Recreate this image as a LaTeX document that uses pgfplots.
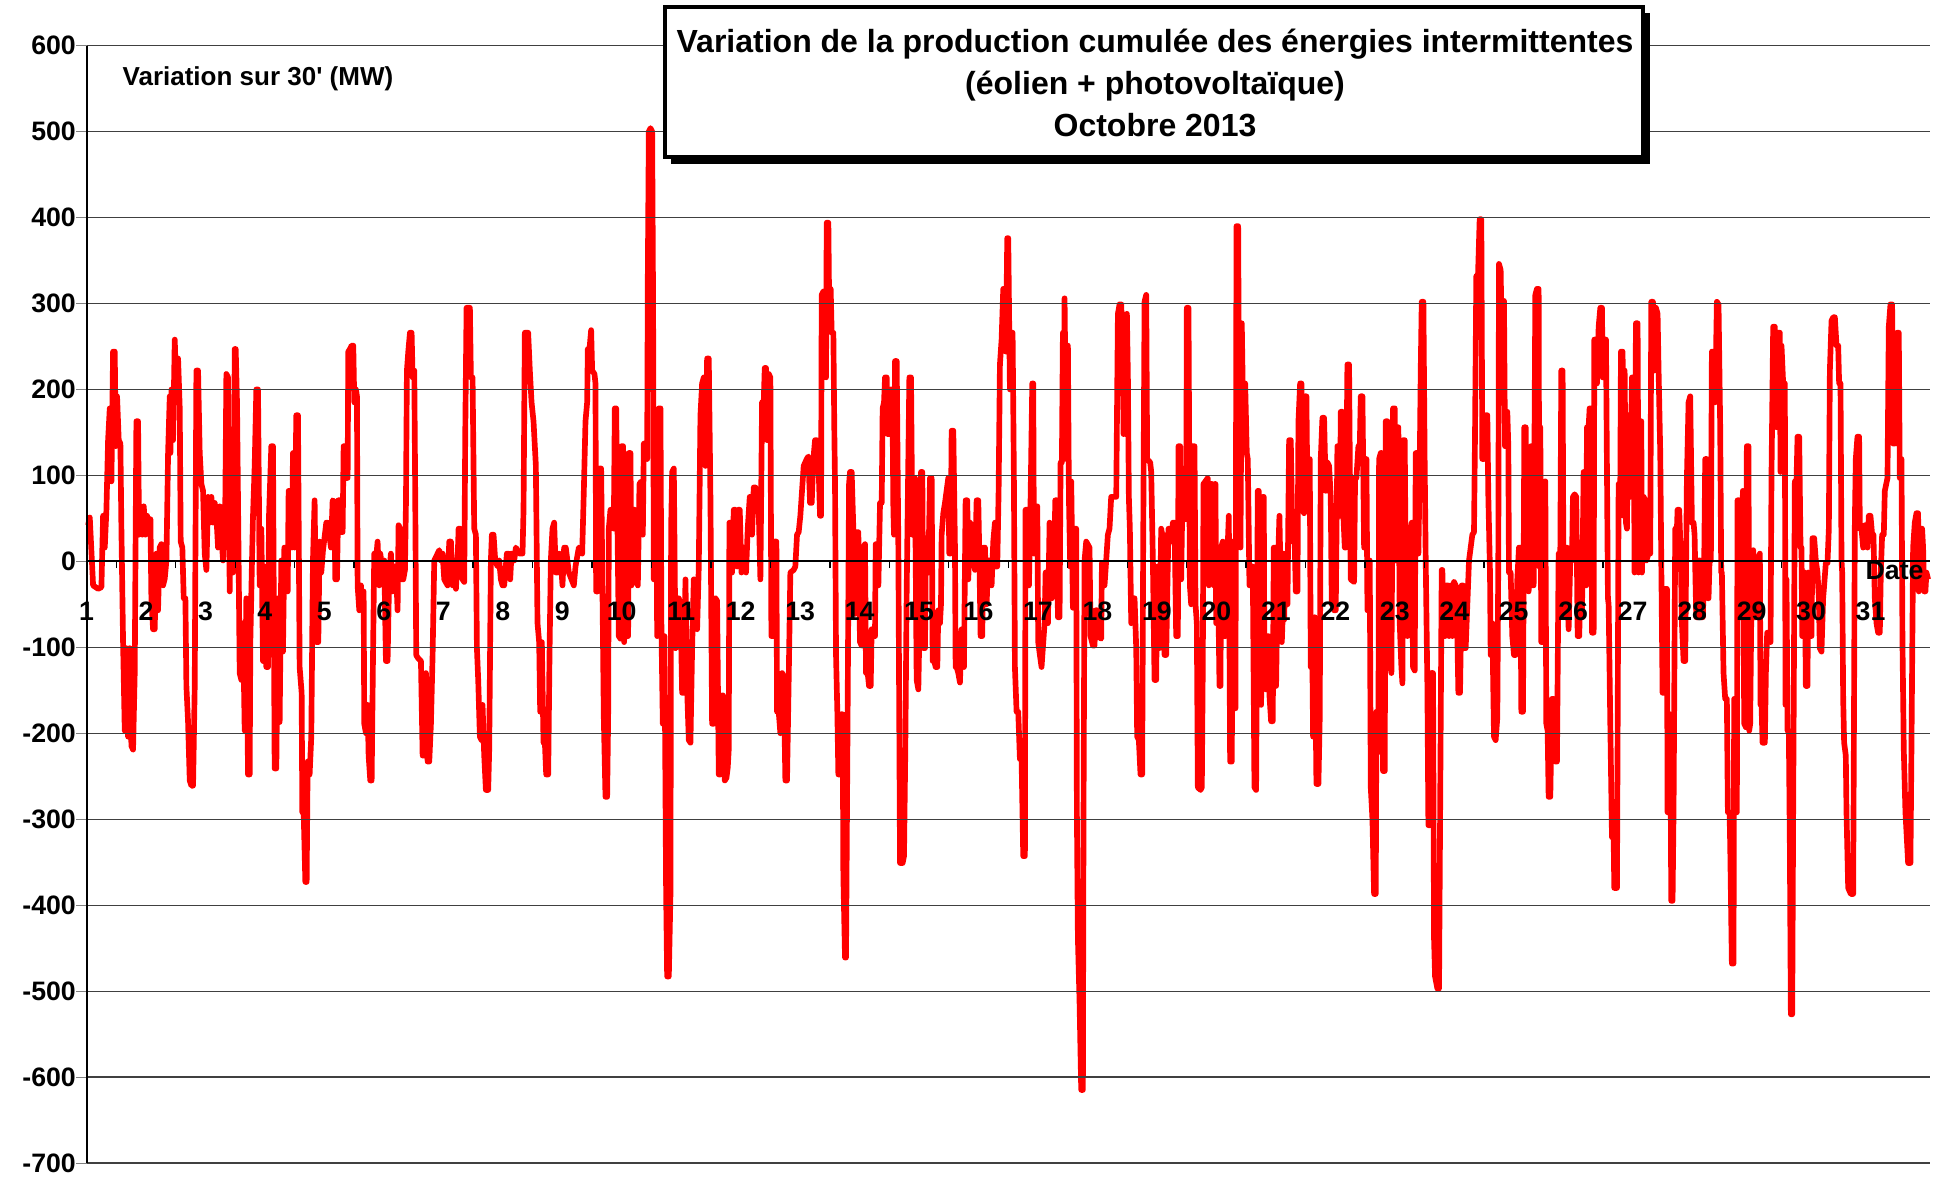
\documentclass[border=0pt]{standalone}
\usepackage{fontspec}
\setmainfont{Liberation Sans}
\usepackage{pgfplots}
\pgfplotsset{compat=1.18}
\begin{document}
\begin{tikzpicture}
\useasboundingbox (0,0) rectangle (581.1bp,353.7bp);
\begin{axis}[
  axis on top,
  at={(25.95bp,4.8bp)}, anchor=south west,
  scale only axis, width=553.05bp, height=335.2bp,
  xmin=1, xmax=32, ymin=-700, ymax=600,
  axis x line=middle, axis y line=left,
  axis line style={-, black, line width=0.6bp},
  hide obscured x ticks=false, hide obscured y ticks=false,
  xtick={1,...,31},
  xticklabels={1,2,3,4,5,6,7,8,9,10,11,12,13,14,15,16,17,18,19,20,21,22,23,24,25,26,27,28,29,30,31},
  minor x tick num=1,
  major x tick style={draw=none},
  minor x tick style={black, line width=0.4bp},
  minor tick length=2bp,
  ytick={-700,-600,...,600},
  yticklabels={-700,-600,-500,-400,-300,-200,-100,0,100,200,300,400,500,600},
  major tick length=3bp,
  tick align=outside,
  ymajorgrids,
  major grid style={black!75, line width=0.35bp},
  xticklabel style={font=\bfseries\fontsize{8bp}{9.6bp}\selectfont, anchor=center, yshift=-12bp},
  yticklabel style={font=\bfseries\fontsize{8bp}{9.6bp}\selectfont, anchor=east, inner sep=0pt},
  clip=false,
]
\addplot[red, line width=1.7bp, line join=round, no markers] coordinates {
(1.027,42)(1.055,51)(1.111,-28)(1.195,-32)(1.251,-30)(1.279,53)(1.307,16)(1.335,60)(1.363,141)(1.391,178)(1.419,93)(1.447,244)(1.475,244)(1.492,134)(1.514,192)(1.542,141)(1.570,137)(1.587,38)(1.615,-94)(1.643,-197)(1.671,-101)(1.699,-204)(1.727,-101)(1.755,-215)(1.783,-219)(1.811,-130)(1.839,163)(1.867,163)(1.884,31)(1.912,60)(1.940,31)(1.963,64)(1.991,31)(2.019,53)(2.047,38)(2.075,49)(2.091,-43)(2.119,-79)(2.147,-79)(2.175,9)(2.203,-57)(2.231,16)(2.259,20)(2.288,-28)(2.316,-20)(2.344,1)(2.372,126)(2.400,192)(2.411,126)(2.428,200)(2.456,141)(2.484,258)(2.512,192)(2.540,236)(2.568,178)(2.584,23)(2.612,16)(2.635,-43)(2.663,-43)(2.680,-145)(2.708,-187)(2.736,-255)(2.764,-261)(2.792,-261)(2.820,-145)(2.848,222)(2.876,222)(2.904,126)(2.932,90)(2.960,82)(2.988,9)(3.016,-10)(3.044,75)(3.072,45)(3.100,75)(3.128,45)(3.156,68)(3.184,53)(3.212,16)(3.240,64)(3.268,31)(3.296,1)(3.335,75)(3.352,218)(3.380,214)(3.408,-35)(3.436,111)(3.464,-13)(3.481,75)(3.492,247)(3.509,247)(3.531,185)(3.559,-6)(3.576,-130)(3.604,-138)(3.632,-72)(3.660,-197)(3.688,-43)(3.716,-248)(3.744,-248)(3.755,-94)(3.783,1)(3.800,53)(3.828,111)(3.856,200)(3.884,200)(3.912,-28)(3.940,38)(3.968,-116)(3.996,-6)(4.024,-123)(4.052,-123)(4.069,53)(4.108,134)(4.136,134)(4.164,-241)(4.192,-241)(4.220,-43)(4.248,-187)(4.276,1)(4.304,-105)(4.327,16)(4.360,9)(4.383,-35)(4.399,82)(4.427,82)(4.455,16)(4.472,126)(4.500,16)(4.528,170)(4.556,170)(4.584,-123)(4.618,-153)(4.629,-292)(4.652,-292)(4.680,-373)(4.702,-373)(4.719,-233)(4.752,-248)(4.780,-204)(4.808,1)(4.836,71)(4.864,-94)(4.898,-94)(4.920,23)(4.948,-13)(4.976,12)(5.032,45)
(5.055,45)(5.111,16)(5.139,71)(5.167,69)(5.184,-21)(5.212,-21)(5.234,71)(5.262,71)(5.279,34)(5.307,34)(5.324,134)(5.346,134)(5.363,97)(5.391,97)(5.402,244)(5.430,247)(5.458,251)(5.486,251)(5.503,185)(5.531,200)(5.548,192)(5.559,-28)(5.587,-57)(5.615,-28)(5.643,-57)(5.660,-35)(5.671,-189)(5.699,-200)(5.727,-167)(5.744,-226)(5.772,-255)(5.795,-255)(5.817,-116)(5.839,9)(5.867,1)(5.895,23)(5.923,-28)(5.940,9)(5.979,-10)(6.007,1)(6.035,-116)(6.063,-116)(6.091,-13)(6.119,9)(6.147,-35)(6.175,-6)(6.203,-6)(6.231,-57)(6.248,42)(6.276,38)(6.299,-21)(6.327,-21)(6.355,-10)(6.372,68)(6.388,222)(6.411,244)(6.439,266)(6.467,266)(6.484,214)(6.512,222)(6.528,75)(6.545,-109)(6.568,-112)(6.624,-116)(6.652,-226)(6.680,-226)(6.708,-130)(6.736,-233)(6.764,-233)(6.792,-189)(6.820,-109)(6.848,1)(6.904,9)(6.932,13)(6.960,1)(6.988,9)(7.016,-21)(7.072,-28)(7.100,23)(7.128,23)(7.156,-28)(7.184,1)(7.212,-32)(7.240,1)(7.257,38)(7.285,38)(7.324,-21)(7.352,-24)(7.369,148)(7.391,295)(7.419,295)(7.447,295)(7.464,214)(7.492,214)(7.520,38)(7.548,31)(7.565,-101)(7.587,-138)(7.615,-204)(7.643,-208)(7.660,-167)(7.688,-226)(7.716,-266)(7.755,-266)(7.772,-219)(7.800,1)(7.817,31)(7.845,31)(7.873,1)(7.912,-6)(7.940,1)(7.968,-21)(7.996,-28)(8.024,-28)(8.069,9)(8.097,9)(8.125,-21)(8.147,9)(8.192,1)(8.220,16)(8.276,9)(8.332,9)(8.349,60)(8.371,266)(8.399,266)(8.427,266)(8.455,222)(8.484,185)(8.517,163)(8.556,112)(8.584,-72)(8.612,-94)(8.629,-175)(8.657,-94)(8.685,-211)(8.708,-211)(8.730,-248)(8.764,-248)(8.786,-109)(8.808,1)(8.836,38)(8.864,45)(8.892,-13)(8.920,-13)(8.948,9)(8.976,1)(9.004,-28)(9.032,16)(9.060,16)
(9.111,-13)(9.195,-28)(9.223,-6)(9.279,16)(9.335,9)(9.363,82)(9.391,163)(9.419,185)(9.430,247)(9.458,247)(9.486,269)(9.503,222)(9.542,218)(9.559,207)(9.570,-35)(9.598,-35)(9.626,108)(9.654,108)(9.671,1)(9.699,-182)(9.727,-274)(9.755,-274)(9.772,-182)(9.783,38)(9.811,60)(9.867,38)(9.884,178)(9.907,178)(9.923,75)(9.951,-87)(9.979,-90)(9.996,134)(10.024,134)(10.041,-94)(10.063,75)(10.080,-87)(10.108,-87)(10.119,126)(10.147,126)(10.164,-28)(10.192,60)(10.220,60)(10.243,-21)(10.271,-28)(10.299,90)(10.327,93)(10.355,31)(10.372,137)(10.400,137)(10.428,119)(10.439,332)(10.456,500)(10.484,504)(10.512,500)(10.528,295)(10.540,-21)(10.568,-13)(10.579,163)(10.596,-87)(10.624,178)(10.652,178)(10.668,-79)(10.691,-189)(10.719,-87)(10.747,-387)(10.764,-483)(10.792,-483)(10.820,-387)(10.831,38)(10.848,104)(10.876,108)(10.904,-101)(10.932,-98)(10.960,-43)(10.988,-50)(11.016,-153)(11.044,-153)(11.072,-21)(11.100,-149)(11.128,-208)(11.156,-211)(11.184,-101)(11.212,-21)(11.240,-24)(11.268,-79)(11.296,-6)(11.324,170)(11.352,207)(11.380,214)(11.408,111)(11.436,236)(11.464,236)(11.492,75)(11.520,-189)(11.548,-189)(11.576,-43)(11.604,-46)(11.632,-248)(11.660,-248)(11.688,-156)(11.705,-156)(11.733,-255)(11.761,-252)(11.783,-240)(11.800,-219)(11.811,45)(11.839,45)(11.856,-13)(11.884,60)(11.912,60)(11.940,-6)(11.957,60)(11.985,60)(12.013,-13)(12.041,16)(12.069,16)(12.091,-13)(12.119,38)(12.153,75)(12.181,75)(12.192,31)(12.220,86)(12.248,86)(12.276,60)(12.304,60)(12.332,-21)(12.360,185)(12.388,185)(12.405,225)(12.427,225)(12.444,141)(12.472,218)(12.500,214)(12.517,-87)(12.545,-87)(12.573,23)(12.601,23)(12.612,-175)(12.640,-175)(12.668,-200)(12.696,-130)(12.724,-134)(12.752,-255)(12.780,-255)(12.808,-138)(12.836,-13)(12.892,-10)(12.920,-6)(12.948,31)(12.976,34)(13.004,53)(13.032,82)(13.060,111)
(13.111,119)(13.139,122)(13.167,68)(13.195,68)(13.223,119)(13.251,141)(13.279,141)(13.307,119)(13.335,53)(13.352,53)(13.363,310)(13.391,314)(13.419,222)(13.436,214)(13.447,394)(13.475,394)(13.492,273)(13.514,317)(13.531,266)(13.559,266)(13.576,148)(13.587,90)(13.604,-109)(13.626,-175)(13.643,-248)(13.671,-248)(13.688,-178)(13.716,-178)(13.727,-365)(13.755,-461)(13.772,-461)(13.795,-219)(13.823,90)(13.839,104)(13.867,104)(13.895,38)(13.907,-57)(13.923,-61)(13.951,34)(13.979,34)(14.007,-94)(14.035,-98)(14.063,16)(14.091,20)(14.108,-130)(14.136,-130)(14.159,-145)(14.187,-145)(14.203,-79)(14.259,-87)(14.271,20)(14.299,20)(14.316,-28)(14.344,68)(14.372,68)(14.388,178)(14.411,185)(14.428,214)(14.456,214)(14.472,148)(14.500,148)(14.523,200)(14.551,200)(14.568,60)(14.579,31)(14.596,233)(14.624,233)(14.652,16)(14.680,-351)(14.724,-351)(14.747,-343)(14.769,-219)(14.792,-35)(14.809,60)(14.837,214)(14.865,214)(14.887,31)(14.915,97)(14.932,97)(14.960,-138)(14.988,-149)(15.016,-43)(15.033,104)(15.055,104)(15.072,-101)(15.100,-101)(15.117,27)(15.139,27)(15.156,-13)(15.184,97)(15.212,97)(15.229,-116)(15.257,-116)(15.279,-123)(15.307,-123)(15.324,-57)(15.352,-72)(15.369,-50)(15.380,31)(15.408,56)(15.436,68)(15.492,97)(15.509,9)(15.531,9)(15.548,152)(15.576,152)(15.604,16)(15.615,-123)(15.632,-123)(15.660,-130)(15.688,-141)(15.716,-79)(15.744,-79)(15.755,-123)(15.783,71)(15.811,71)(15.828,-21)(15.856,45)(15.884,42)(15.912,1)(15.940,-10)(15.968,71)(15.996,71)(16.013,9)(16.035,-87)(16.063,-87)(16.080,16)(16.108,16)(16.136,-50)(16.164,1)(16.192,1)(16.220,-28)(16.248,23)(16.276,45)(16.293,-6)(16.315,-6)(16.338,82)(16.360,229)(16.388,258)(16.416,317)(16.444,317)(16.461,244)(16.483,376)(16.500,376)(16.528,200)(16.556,266)(16.573,266)(16.595,97)(16.612,-123)(16.640,-175)(16.668,-175)(16.696,-230)(16.724,-230)(16.752,-343)(16.780,-343)(16.791,60)(16.819,60)(16.848,-28)(16.876,75)(16.904,207)(16.920,207)(16.932,9)(16.960,60)(16.988,64)(17.004,-94)(17.032,-109)(17.060,-123)
(17.111,-72)(17.128,-13)(17.150,-13)(17.167,-72)(17.195,45)(17.212,42)(17.234,-43)(17.251,16)(17.279,16)(17.290,71)(17.318,71)(17.335,-65)(17.363,-65)(17.380,115)(17.402,115)(17.419,266)(17.436,119)(17.447,306)(17.475,119)(17.503,251)(17.520,75)(17.542,-6)(17.559,93)(17.587,-54)(17.615,38)(17.643,38)(17.654,-292)(17.671,-438)(17.699,-513)(17.727,-615)(17.755,-615)(17.766,-292)(17.783,1)(17.811,23)(17.867,16)(17.884,-87)(17.923,-98)(17.951,-98)(17.968,-57)(17.996,-57)(18.007,-87)(18.063,-90)(18.075,-2)(18.103,-6)(18.119,-28)(18.147,1)(18.175,31)(18.203,38)(18.231,75)(18.316,75)(18.344,288)(18.372,299)(18.400,299)(18.428,229)(18.439,148)(18.456,280)(18.472,148)(18.495,288)(18.512,214)(18.528,75)(18.545,38)(18.568,-72)(18.596,-43)(18.624,-43)(18.652,-101)(18.668,-204)(18.696,-208)(18.724,-248)(18.752,-248)(18.769,16)(18.792,302)(18.820,310)(18.836,119)(18.887,115)(18.904,104)(18.932,1)(18.960,-138)(18.988,-138)(19.005,-6)(19.033,-6)(19.044,-101)(19.072,38)(19.089,31)(19.111,31)(19.128,-109)(19.156,-109)(19.184,1)(19.195,38)(19.229,38)(19.251,23)(19.268,45)(19.296,45)(19.324,-87)(19.352,-87)(19.363,134)(19.391,134)(19.408,-21)(19.436,108)(19.464,104)(19.481,49)(19.492,53)(19.503,295)(19.531,295)(19.554,-28)(19.576,-50)(19.604,134)(19.632,134)(19.649,-50)(19.671,-72)(19.688,-263)(19.733,-266)(19.755,-263)(19.772,-116)(19.783,90)(19.856,97)(19.873,-28)(19.901,90)(19.929,90)(19.957,-28)(19.974,90)(19.985,90)(19.996,-72)(20.024,1)(20.052,-145)(20.069,-145)(20.080,16)(20.108,23)(20.125,-87)(20.153,-87)(20.181,1)(20.209,53)(20.231,-233)(20.259,-233)(20.276,23)(20.293,-171)(20.321,-171)(20.338,390)(20.366,390)(20.388,82)(20.405,16)(20.427,277)(20.455,148)(20.484,207)(20.511,126)(20.528,119)(20.556,-28)(20.584,-28)(20.612,-6)(20.640,-263)(20.668,-266)(20.696,82)(20.713,82)(20.736,-163)(20.752,-167)(20.780,75)(20.797,75)(20.808,-145)(20.836,-149)(20.853,-87)(20.876,-87)(20.892,-156)(20.920,-186)(20.948,-186)(20.965,16)(20.988,16)(21.004,-145)(21.032,-13)(21.060,53)
(21.100,-94)(21.111,-72)(21.128,9)(21.139,-68)(21.167,9)(21.195,-50)(21.223,141)(21.251,141)(21.279,23)(21.307,53)(21.335,-35)(21.363,-35)(21.380,163)(21.408,207)(21.430,207)(21.447,60)(21.475,56)(21.492,192)(21.514,192)(21.531,75)(21.548,119)(21.570,119)(21.587,-123)(21.615,-123)(21.626,-204)(21.654,-65)(21.682,-259)(21.716,-259)(21.738,-182)(21.755,119)(21.783,167)(21.811,167)(21.839,82)(21.867,115)(21.895,111)(21.923,75)(21.940,-50)(21.963,45)(21.979,-57)(22.007,-57)(22.035,134)(22.063,134)(22.080,53)(22.091,174)(22.119,174)(22.131,60)(22.159,16)(22.175,16)(22.203,229)(22.231,229)(22.259,-21)(22.316,-24)(22.332,97)(22.355,97)(22.388,134)(22.411,134)(22.428,192)(22.456,192)(22.484,16)(22.500,119)(22.523,119)(22.540,-57)(22.556,-57)(22.579,1)(22.596,-263)(22.624,-300)(22.652,-387)(22.680,-387)(22.691,-175)(22.708,-178)(22.724,-222)(22.736,119)(22.764,126)(22.780,126)(22.803,-244)(22.831,-244)(22.848,163)(22.876,163)(22.892,45)(22.915,-116)(22.943,-130)(22.971,178)(22.999,178)(23.016,1)(23.044,156)(23.060,156)(23.083,-72)(23.111,-123)(23.128,-142)(23.139,141)(23.167,141)(23.184,-13)(23.212,-87)(23.240,31)(23.268,38)(23.285,45)(23.307,-123)(23.335,-127)(23.352,126)(23.380,126)(23.397,9)(23.419,111)(23.436,222)(23.453,302)(23.481,302)(23.503,111)(23.520,1)(23.548,-145)(23.565,-307)(23.593,-307)(23.615,-130)(23.643,-130)(23.660,-439)(23.677,-483)(23.716,-497)(23.744,-497)(23.772,-189)(23.789,-10)(23.800,-10)(23.817,-87)(23.845,-87)(23.867,-28)(23.895,-28)(23.912,-87)(23.940,-28)(23.968,-87)(23.996,-24)(24.024,-28)(24.052,-87)(24.069,-153)(24.097,-153)(24.125,-28)(24.147,-28)(24.164,-101)(24.192,-101)(24.220,-50)(24.248,1)(24.276,16)(24.304,31)(24.332,34)(24.349,148)(24.371,332)(24.399,332)(24.427,398)(24.455,398)(24.472,119)(24.500,119)(24.528,170)(24.556,170)(24.573,75)(24.601,-13)(24.612,-109)(24.640,-72)(24.668,-204)(24.696,-208)(24.724,-182)(24.741,9)(24.752,346)(24.780,339)(24.808,222)(24.836,303)(24.853,134)(24.876,134)(24.892,174)(24.909,134)(24.920,-13)(24.948,-13)(24.976,-87)(25.004,-109)(25.032,-109)(25.060,-21)(25.088,16)
(25.111,16)(25.128,-175)(25.156,-175)(25.178,156)(25.201,156)(25.223,-28)(25.251,-35)(25.268,130)(25.290,134)(25.307,-28)(25.335,-28)(25.363,310)(25.391,317)(25.419,317)(25.430,-6)(25.447,156)(25.464,-94)(25.486,-94)(25.503,90)(25.531,93)(25.548,-189)(25.570,-197)(25.587,-274)(25.615,-274)(25.643,-160)(25.671,-160)(25.699,-233)(25.727,-233)(25.755,9)(25.783,9)(25.800,222)(25.822,222)(25.839,-65)(25.851,9)(25.867,-65)(25.895,16)(25.923,-79)(25.951,1)(25.979,1)(25.996,75)(26.024,78)(26.052,75)(26.075,-87)(26.103,-87)(26.119,9)(26.147,-65)(26.175,104)(26.203,104)(26.220,-28)(26.231,156)(26.259,156)(26.276,178)(26.304,178)(26.316,-83)(26.344,-83)(26.355,258)(26.383,258)(26.400,207)(26.428,273)(26.456,295)(26.484,295)(26.495,214)(26.523,258)(26.551,258)(26.568,104)(26.584,-43)(26.596,-50)(26.624,-189)(26.652,-321)(26.680,-321)(26.691,-380)(26.736,-380)(26.747,-204)(26.764,90)(26.792,90)(26.803,244)(26.831,244)(26.848,53)(26.865,222)(26.887,45)(26.904,38)(26.921,170)(26.943,170)(26.960,75)(26.988,214)(27.016,214)(27.032,-13)(27.055,277)(27.083,277)(27.100,-13)(27.116,163)(27.145,163)(27.156,-13)(27.184,75)(27.212,71)(27.229,1)(27.268,9)(27.296,9)(27.313,302)(27.341,302)(27.363,222)(27.391,295)(27.419,288)(27.436,222)(27.464,126)(27.481,1)(27.503,-153)(27.531,-153)(27.548,-32)(27.576,-32)(27.587,-292)(27.615,-292)(27.632,-178)(27.649,-395)(27.671,-395)(27.688,-288)(27.716,38)(27.744,38)(27.755,60)(27.783,60)(27.811,1)(27.828,-72)(27.856,-116)(27.884,-116)(27.912,97)(27.940,185)(27.968,192)(27.996,45)(28.024,45)(28.041,31)(28.069,-65)(28.097,-65)(28.108,1)(28.136,1)(28.153,-65)(28.181,-65)(28.203,1)(28.220,119)(28.248,119)(28.265,-43)(28.276,-43)(28.293,1)(28.315,1)(28.332,244)(28.360,244)(28.388,185)(28.416,302)(28.444,299)(28.472,156)(28.489,-13)(28.500,-13)(28.528,-130)(28.556,-160)(28.584,-160)(28.601,-292)(28.629,-292)(28.640,-329)(28.668,-468)(28.696,-468)(28.707,-160)(28.736,-160)(28.752,-292)(28.763,71)(28.791,71)(28.808,-65)(28.836,-65)(28.853,82)(28.876,-189)(28.904,-193)(28.920,134)(28.948,134)(28.960,-197)(28.976,-189)(29.004,1)
(29.027,13)(29.044,-65)(29.072,-65)(29.094,1)(29.139,9)(29.150,-167)(29.167,-167)(29.184,-211)(29.223,-211)(29.240,-130)(29.262,-83)(29.290,-83)(29.318,-94)(29.335,104)(29.363,273)(29.391,273)(29.419,156)(29.447,266)(29.475,266)(29.486,104)(29.503,251)(29.531,207)(29.559,207)(29.570,-167)(29.587,-21)(29.604,-197)(29.626,-197)(29.643,-329)(29.660,-527)(29.683,-527)(29.699,-292)(29.710,-145)(29.727,93)(29.755,93)(29.772,145)(29.800,145)(29.823,16)(29.839,16)(29.851,-87)(29.867,-13)(29.895,-13)(29.912,-145)(29.940,-145)(29.951,-13)(29.979,-87)(30.007,-87)(30.024,27)(30.052,27)(30.080,1)(30.108,-13)(30.131,-43)(30.147,-101)(30.175,-105)(30.203,-43)(30.220,-28)(30.248,-2)(30.276,-2)(30.299,38)(30.316,222)(30.344,280)(30.372,284)(30.400,284)(30.428,251)(30.456,251)(30.472,207)(30.495,207)(30.512,1)(30.523,-13)(30.540,-160)(30.556,-211)(30.584,-226)(30.596,-292)(30.624,-380)(30.668,-387)(30.708,-387)(30.724,-145)(30.736,45)(30.752,119)(30.780,145)(30.808,145)(30.820,38)(30.848,38)(30.876,16)(30.904,42)(30.932,42)(30.949,16)(30.971,53)(30.999,53)(31.027,31)(31.049,31)(31.072,-43)(31.100,-72)(31.128,-83)(31.156,-83)(31.173,-13)(31.195,31)(31.223,31)(31.240,82)(31.285,97)(31.307,273)(31.335,299)(31.363,299)(31.380,137)(31.408,137)(31.436,178)(31.447,266)(31.475,266)(31.492,97)(31.520,119)(31.537,-94)(31.559,-219)(31.587,-292)(31.632,-351)(31.671,-351)(31.688,-219)(31.716,16)(31.744,45)(31.772,56)(31.800,56)(31.811,-35)(31.839,38)(31.867,38)(31.884,16)(31.901,-35)(31.923,-35)(31.940,-13)(31.968,-21)
};
\end{axis}
% title box with shadow
\fill[black] (201.4bp,304.6bp) rectangle (494.9bp,349.8bp);
\draw[black, line width=1.1bp, fill=white] (199.4bp,306.5bp) rectangle (492.9bp,351.5bp);
\node[align=center, font=\bfseries\fontsize{9.6bp}{12.6bp}\selectfont, inner sep=0pt] at (346.5bp,328.9bp)
  {Variation de la production cumulée des énergies intermittentes\\(éolien + photovoltaïque)\\Octobre 2013};
\node[anchor=west, font=\bfseries\fontsize{7.8bp}{9bp}\selectfont, inner sep=0pt] at (36.6bp,330.1bp)
  {Variation sur 30\textquotesingle{} (MW)};
\node[anchor=west, font=\bfseries\fontsize{8bp}{9.6bp}\selectfont, inner sep=0pt] at (559.5bp,182.5bp) {Date};
\end{tikzpicture}
\end{document}
